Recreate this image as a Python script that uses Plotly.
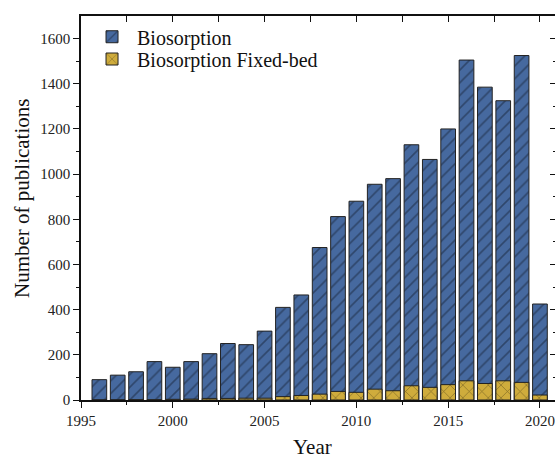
import plotly.graph_objects as go

years = list(range(1996, 2021))
biosorption = [90, 110, 125, 170, 145, 170, 205, 250, 245, 305, 410, 465, 675, 812, 880,
               955, 980, 1130, 1065, 1200, 1505, 1385, 1325, 1525, 425]
fixed_bed = [0, 0, 1, 1, 3, 4, 7, 7, 8, 8, 15, 20, 26, 38, 34,
             48, 41, 63, 56, 68, 85, 73, 85, 78, 22]

x_major = [1995, 2000, 2005, 2010, 2015, 2020]
x_minor = [1997.5, 2002.5, 2007.5, 2012.5, 2017.5]
y_major = [0, 200, 400, 600, 800, 1000, 1200, 1400, 1600]
y_minor = [100, 300, 500, 700, 900, 1100, 1300, 1500]

FONT = "Liberation Serif, Times New Roman, serif"

fig = go.Figure()
fig.add_trace(go.Bar(
    x=years, y=biosorption, name="Biosorption", width=0.8, legend="legend",
    marker=dict(color="#46699f", line=dict(color="#222222", width=1),
                pattern=dict(shape="/", fgcolor="#172438", size=9, solidity=0.18)),
))
fig.add_trace(go.Bar(
    x=years, y=fixed_bed, name="Biosorption Fixed-bed", width=0.8, legend="legend2",
    marker=dict(color="#cfac3c", line=dict(color="#222222", width=1),
                pattern=dict(shape="x", fgcolor="#3a2e10", size=9, solidity=0.15)),
))
# helper trace to activate mirrored top/right axes
fig.add_trace(go.Scatter(x=[], y=[], xaxis="x2", yaxis="y2", showlegend=False))

xr = [1995, 2020.82]
yr = [0, 1700]

leg_common = dict(xanchor="left", yanchor="middle",
                  font=dict(family=FONT, size=20, color="#111"),
                  bgcolor="rgba(0,0,0,0)", itemwidth=40)

fig.update_layout(
    width=555, height=458,
    margin=dict(l=81, r=0, t=16, b=58, autoexpand=False),
    paper_bgcolor="white", plot_bgcolor="white",
    barmode="overlay",
    font=dict(family=FONT, size=15, color="#222"),
    showlegend=True,
    legend=dict(x=0.0127, y=0.946, **leg_common),
    legend2=dict(x=0.0127, y=0.888, **leg_common),
    xaxis=dict(range=xr, tickmode="array", tickvals=x_major, automargin=False,
               ticks="outside", ticklen=6, tickwidth=1.2, tickcolor="#111",
               showline=True, linecolor="#111", linewidth=1.5, showgrid=False, zeroline=False,
               minor=dict(tickvals=x_minor, ticks="outside",
                          ticklen=3, tickcolor="#111", showgrid=False),
               tickfont=dict(family=FONT, size=15, color="#222")),
    yaxis=dict(range=yr, tickmode="array", tickvals=y_major, automargin=False,
               ticks="outside", ticklen=6, tickwidth=1.2, tickcolor="#111",
               showline=True, linecolor="#111", linewidth=1.5, showgrid=False, zeroline=False,
               minor=dict(tickvals=y_minor, ticks="outside",
                          ticklen=3, tickcolor="#111", showgrid=False),
               tickfont=dict(family=FONT, size=15, color="#222")),
    xaxis2=dict(range=xr, overlaying="x", side="top", anchor="y2", automargin=False,
                tickmode="array", tickvals=x_major,
                ticks="inside", ticklen=6, tickwidth=1.2, tickcolor="#111", showticklabels=False,
                showline=True, linecolor="#111", linewidth=1.5, showgrid=False, zeroline=False,
                minor=dict(tickvals=x_minor, ticks="inside",
                           ticklen=6, tickcolor="#111", showgrid=False)),
    yaxis2=dict(range=yr, overlaying="y", side="right", anchor="x2", automargin=False,
                tickmode="array", tickvals=y_major,
                ticks="inside", ticklen=5, tickwidth=1.2, tickcolor="#111", showticklabels=False,
                showline=False, showgrid=False, zeroline=False,
                minor=dict(tickvals=y_minor, ticks="inside",
                           ticklen=2, tickcolor="#111", showgrid=False)),
    annotations=[
        dict(text="Number of publications", xref="paper", yref="paper", x=-0.1245, y=0.526,
             textangle=-90, showarrow=False, xanchor="center", yanchor="middle",
             font=dict(family=FONT, size=21, color="#111")),
        dict(text="Year", xref="paper", yref="paper", x=0.489, y=-0.122,
             showarrow=False, xanchor="center", yanchor="middle",
             font=dict(family=FONT, size=21, color="#111")),
    ],
)

fig.write_html(
    "out.html",
    config={"displayModeBar": False},
    post_script="document.body.style.margin='0';document.body.style.overflow='hidden';",
)
